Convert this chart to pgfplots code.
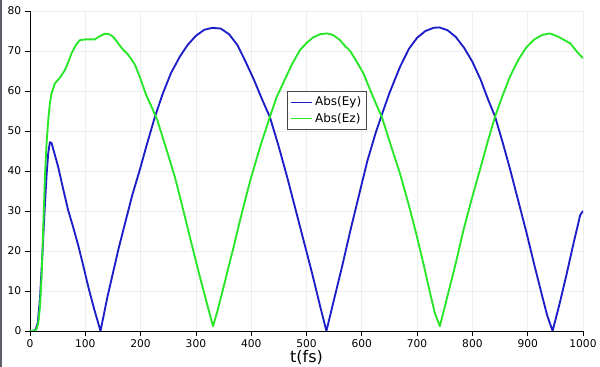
\documentclass[border=0pt]{standalone}
\usepackage{fontspec}
\setmainfont{DejaVu Sans}
\usepackage{pgfplots}
\pgfplotsset{compat=1.18}
\definecolor{eyblue}{RGB}{30,30,200}
\definecolor{ezgreen}{RGB}{40,230,40}
\definecolor{gridc}{RGB}{238,238,238}
\definecolor{framec}{RGB}{90,96,102}
\begin{document}
\begin{tikzpicture}
\path[use as bounding box] (-22.5pt,-27pt) rectangle (427.5pt,248.25pt);
\fill[framec] (-22.5pt,-27pt) rectangle (-21pt,248.25pt);
\begin{axis}[
  scale only axis,
  width=414.75pt, height=240pt,
  xmin=0, xmax=1000, ymin=0, ymax=80,
  xtick={0,100,...,1000}, ytick={0,10,...,80},
  axis x line*=bottom, axis y line*=left,
  axis line style={black, line width=0.6pt},
  tick align=outside, major tick length=4pt,
  tick style={black, line width=0.6pt},
  grid=major, major grid style={gridc, line width=0.6pt},
  /pgf/number format/assume math mode=true,
  /pgf/number format/1000 sep={},
  tick label style={font=\fontsize{8}{9}\selectfont},
  xticklabel style={yshift=1pt},
  yticklabel style={xshift=1pt},
  xlabel={t(fs)},
  xlabel style={font=\fontsize{12}{13}\selectfont, yshift=5pt},
  legend style={at={(0.4647,0.75)}, anchor=north west, draw={rgb,255:red,70;green,70;blue,70},
    line width=0.6pt, font=\fontsize{9}{10}\selectfont, inner xsep=2pt, inner ysep=2pt, row sep=0pt,
    legend cell align=left},
  legend image code/.code={\draw[#1, line width=0.8pt] (0pt,0pt) -- (16pt,0pt);},
  clip=true,
]
\addplot[eyblue, line width=1.4pt, line join=round] coordinates {
(0,0) (5,0) (10,0.3) (14,2) (18,8) (22,18) (26,29) (30,39) (33,44.5) (36,47.2) (39,47.0)
(44,44.5) (51,41) (60,35.5) (69,30.2) (78,26) (87,21.5) (96,16.5) (105.5,11) (116,5.5)
(127.5,0) (140,8.5) (150,14.5) (160,20.5) (172,27) (185,34) (199,40.5) (210,46) (226,53.6)
(240,59.3) (255,64.5) (271,68.6) (285,71.5) (300,73.8) (315,75.3) (330,75.8) (345,75.6)
(360,74.2) (375,71.5) (390,67.3) (405,62.8) (420,57.8) (434,53.4) (450,46) (465,38.5)
(480,30.5) (495,22.5) (510,14.5) (525,6) (536,0) (550,8) (565,16.5) (580,25.5) (595,34)
(610,42.5) (625,49.5) (636,54) (650,59.5) (669,66) (685,70.5) (700,73.3) (715,75) (730,75.8)
(740,75.9) (755,75.2) (770,73.5) (785,70.8) (800,67.3) (815,62.8) (828,58) (841,53.6)
(855,47) (868,40.5) (883,32.5) (898,24.5) (912,16.5) (925,9.4) (935,4) (945,0) (958,7)
(970,14) (983,22) (995,29) (1000,30)
};
\addlegendentry{Abs(Ey)}
\addplot[ezgreen, line width=1.4pt, line join=round] coordinates {
(0,0) (8,0) (12,0.5) (15,2) (18,6) (21,13.6) (24,26) (27,38.6) (30,47) (33,52.7) (36,57)
(39,59.4) (45,61.9) (55,63.5) (63,65.2) (70,67.5) (75,69.4) (83,71.5) (90,72.7) (100,72.9)
(117,72.9) (125,73.6) (135,74.3) (143,74.2) (150,73.6) (158,72.2) (166,70.7) (178,69)
(190,66.5) (200,63) (210,59) (220,56) (230,52.8) (247,45.3) (262,38.5) (277,30.3) (290,23)
(301,16.9) (312,11) (322,5.8) (331,1.2) (340,5.5) (350,11) (360,16.5) (370,22) (380,27.8)
(390,33.2) (398,37.5) (416,46) (434,53.6) (446,58.5) (458,62) (473,66.5) (488,70.2) (500,72)
(512,73.4) (525,74.2) (537,74.4) (548,74) (560,72.8) (570,71.2) (579,70) (590,67.5)
(603,64.4) (615,60.3) (625,57) (636,53.6) (650,47.5) (669,39.4) (685,31.5) (699,24)
(712,16.5) (723,9.8) (732,4.5) (741,1.2) (750,6) (760,11.5) (770,17) (784,25.3) (798,32.6)
(814,40.5) (828,47.5) (841,53.6) (855,59) (868,63.6) (883,67.8) (898,71) (912,72.9)
(926,74) (940,74.4) (955,73.6) (968,72.6) (977,71.9) (988,70) (1000,68.2)
};
\addlegendentry{Abs(Ez)}
\end{axis}
\end{tikzpicture}
\end{document}
